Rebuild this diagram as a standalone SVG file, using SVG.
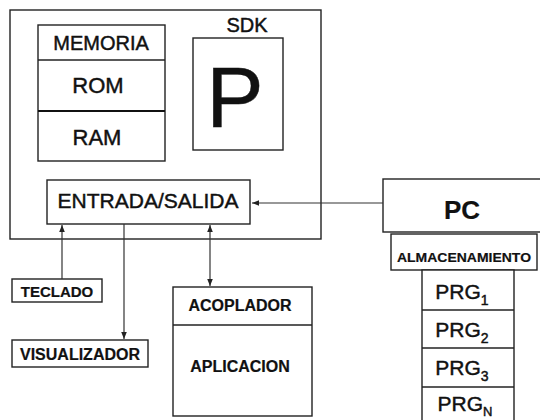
<svg xmlns="http://www.w3.org/2000/svg" width="540" height="420" viewBox="0 0 540 420">
<defs>
<style>
.b{fill:#fff;stroke:#222;stroke-width:1.4}
.t{font-family:"Liberation Sans",Arial,sans-serif;fill:#111;text-anchor:middle;stroke:#111;stroke-width:0.45}
.bd{font-weight:bold;stroke-width:0.2}
.c{stroke:#333;stroke-width:1.2;fill:none}
</style>
<marker id="ah" viewBox="0 0 10 10" refX="10" refY="5" markerWidth="7" markerHeight="7" orient="auto-start-reverse" markerUnits="userSpaceOnUse">
<path d="M0,1 L10,5 L0,9 Z" fill="#222"/>
</marker>
</defs>
<rect width="540" height="420" fill="#fff"/>
<g id="device">
<rect class="b" x="10" y="10" width="311" height="229"/>
</g>
<g id="memoria">
<rect class="b" x="38" y="25" width="127" height="136"/>
<line x1="38" y1="60" x2="165" y2="60" stroke="#222" stroke-width="1.4"/>
<line x1="38" y1="111" x2="165" y2="111" stroke="#111" stroke-width="2.2"/>
<text class="t" x="101" y="50" font-size="20">MEMORIA</text>
<text class="t" x="98" y="93" font-size="22">ROM</text>
<text class="t" x="97" y="145" font-size="22">RAM</text>
</g>
<g id="sdk">
<text class="t" x="247" y="32" font-size="20">SDK</text>
<rect class="b" x="193" y="38" width="90" height="112"/>
<text class="t" x="235" y="127" font-size="86">P</text>
</g>
<g id="entrada">
<rect class="b" x="47" y="180" width="203" height="44"/>
<text class="t" x="148" y="208" font-size="21">ENTRADA/SALIDA</text>
</g>
<g id="teclado">
<rect class="b" x="12" y="279" width="90" height="23"/>
<text class="t bd" x="57" y="297" font-size="15">TECLADO</text>
</g>
<g id="visualizador">
<rect class="b" x="12" y="340" width="136" height="27"/>
<text class="t bd" x="80" y="360" font-size="16">VISUALIZADOR</text>
</g>
<g id="acoplador">
<rect class="b" x="173" y="287" width="139" height="129"/>
<line x1="173" y1="325" x2="312" y2="325" stroke="#222" stroke-width="1.4"/>
<text class="t bd" x="240" y="311" font-size="16">ACOPLADOR</text>
<text class="t bd" x="240" y="372" font-size="16">APLICACION</text>
</g>
<g id="pc">
<rect class="b" x="383" y="179" width="165" height="53"/>
<text class="t bd" x="462" y="219" font-size="26">PC</text>
</g>
<g id="almacenamiento">
<rect class="b" x="391" y="234" width="146" height="36"/>
<text class="t bd" x="464" y="262" font-size="13" textLength="134" lengthAdjust="spacingAndGlyphs">ALMACENAMIENTO</text>
</g>
<g id="prg">
<rect class="b" x="422" y="270" width="92" height="160"/>
<line x1="422" y1="310" x2="514" y2="310" stroke="#222" stroke-width="1.4"/>
<line x1="422" y1="348" x2="514" y2="348" stroke="#222" stroke-width="1.4"/>
<line x1="422" y1="387" x2="514" y2="387" stroke="#222" stroke-width="1.4"/>
<text class="t" x="462" y="299" font-size="21">PRG<tspan font-size="14" dy="6">1</tspan></text>
<text class="t" x="462" y="337" font-size="21">PRG<tspan font-size="14" dy="6">2</tspan></text>
<text class="t" x="462" y="375" font-size="21">PRG<tspan font-size="14" dy="6">3</tspan></text>
<text class="t" x="465" y="411" font-size="21">PRG<tspan font-size="13" dy="5">N</tspan></text>
</g>
<g id="connectors">
<line class="c" x1="383" y1="203" x2="252" y2="203" marker-end="url(#ah)"/>
<line class="c" x1="62" y1="279" x2="62" y2="225" marker-end="url(#ah)"/>
<line class="c" x1="124" y1="224" x2="124" y2="339" marker-end="url(#ah)"/>
<line class="c" x1="210" y1="225" x2="210" y2="286" marker-start="url(#ah)" marker-end="url(#ah)"/>
</g>
</svg>
